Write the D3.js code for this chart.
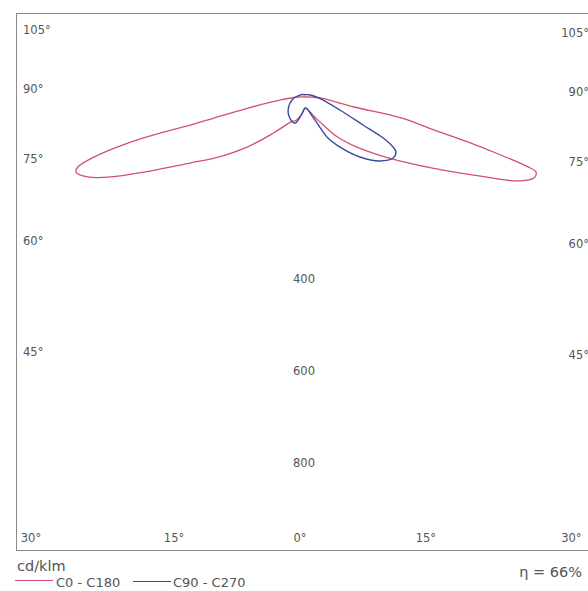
<!DOCTYPE html>
<html>
<head>
<meta charset="utf-8">
<script src="https://cdn.jsdelivr.net/npm/d3@7"></script>
<style>
  body { margin: 0; background: #fff; }
</style>
</head>
<body>
<svg id="ldc" width="588" height="591"></svg>
<script>
// luminous intensity per C-plane, gamma in degrees from nadir, values in cd/klm
const c0Gamma   = [0, 10, 20, 25, 30, 33, 39, 46, 52, 56, 61, 66, 68.5, 70.5, 72, 72.6, 73.5, 74.6, 75.7, 77.7, 78.5, 86, 90, 95, 180];
const c0Values  = [24, 27, 36, 46, 60, 72, 111, 157, 206, 248, 320, 426, 498, 528, 528, 508, 444, 367, 289, 214, 109, 35, 10, 0, 0];
const c180Gamma  = [0, 10, 21, 29, 41, 49, 56, 60, 65, 67.6, 69.8, 71.9, 72.9, 74.1, 75.4, 76, 76.2, 77, 79, 83, 90, 95, 180];
const c180Values = [24, 38, 54, 62, 103, 165, 238, 286, 386, 456, 503, 524, 516, 477, 398, 323, 255, 203, 126, 53, 15, 0, 0];
const c90Gamma   = [0, 10, 17.4, 24.8, 28.8, 35, 42.5, 49.5, 55.3, 58.9, 60.4, 62.3, 64.2, 68.5, 80.5, 90, 120, 180];
const c90Values  = [24, 26, 36, 62, 99, 133, 177, 214, 233, 231, 220, 192, 140, 89, 40, 25, 10, 5];
const c270Gamma  = [0, 8, 14, 21, 31, 40, 48.6, 58, 68, 80, 90, 110, 140, 180];
const c270Values = [24, 32, 45, 61, 59, 54, 49, 42, 35, 27, 20, 12, 7, 5];

const sideAngles = [105, 90, 75, 60, 45];
const bottomAngles = [30, 15, 0, 15, 30];
const bottomSigns = [-1, -1, 0, 1, 1];
const radialTicks = [400, 600, 800];

const svg = d3.select("#ldc")
  .attr("font-family", "DejaVu Sans, Verdana, sans-serif");

const cx = 305, cy = 97;
const labelX = 300;
const textColor = "#555";

const r = d3.scaleLinear().domain([0, 800]).range([0, 368]);

// frame
svg.append("rect")
  .attr("x", 16.5).attr("y", 13.5)
  .attr("width", 600).attr("height", 537)
  .attr("fill", "none")
  .attr("stroke", "#8a8a8a")
  .attr("stroke-width", 1);

// side gamma labels
const sideY = g => Math.max(30, cy + 263 / Math.tan(g * Math.PI / 180) - 8);

svg.append("g").selectAll("text")
  .data(sideAngles)
  .join("text")
    .attr("x", 23)
    .attr("y", d => sideY(d))
    .attr("dy", "0.35em")
    .attr("font-size", 11.5)
    .attr("fill", textColor)
    .text(d => d + "°");

svg.append("g").selectAll("text")
  .data(sideAngles)
  .join("text")
    .attr("x", 589)
    .attr("y", d => sideY(d) + 3)
    .attr("dy", "0.35em")
    .attr("text-anchor", "end")
    .attr("font-size", 11.5)
    .attr("fill", textColor)
    .text(d => d + "°");

// bottom gamma labels
svg.append("g").selectAll("text")
  .data(bottomAngles)
  .join("text")
    .attr("x", (d, i) => Math.max(31, Math.min(572, labelX + bottomSigns[i] * 470 * Math.tan(d * Math.PI / 180))))
    .attr("y", 538)
    .attr("dy", "0.35em")
    .attr("text-anchor", "middle")
    .attr("font-size", 11.5)
    .attr("fill", textColor)
    .text(d => d + "°");

// radial values along nadir
svg.append("g").selectAll("text")
  .data(radialTicks)
  .join("text")
    .attr("x", cx - 1)
    .attr("y", d => cy + r(d) - 2)
    .attr("dy", "0.35em")
    .attr("text-anchor", "middle")
    .attr("font-size", 11.5)
    .attr("fill", textColor)
    .text(d => d);

// curves
function planePoints(rightG, rightV, leftG, leftV) {
  const left = leftG.map((g, i) => ({a: Math.PI + g * Math.PI / 180, v: leftV[i]})).reverse();
  const right = rightG.map((g, i) => ({a: Math.PI - g * Math.PI / 180, v: rightV[i]}));
  return left.concat(right.slice(1));
}

const radial = d3.lineRadial()
  .angle(d => d.a)
  .radius(d => r(d.v))
  .curve(d3.curveCatmullRomClosed.alpha(0.5));

const plot = svg.append("g").attr("transform", `translate(${cx},${cy})`);

plot.append("path")
  .attr("d", radial(planePoints(c0Gamma, c0Values, c180Gamma, c180Values)))
  .attr("fill", "none")
  .attr("stroke", "#d4506e")
  .attr("stroke-width", 1.3);

plot.append("path")
  .attr("d", radial(planePoints(c90Gamma, c90Values, c270Gamma, c270Values)))
  .attr("fill", "none")
  .attr("stroke", "#3c4a9c")
  .attr("stroke-width", 1.4);

// footer
svg.append("text")
  .attr("x", 17).attr("y", 571)
  .attr("font-size", 14.5)
  .attr("fill", textColor)
  .text("cd/klm");

svg.append("line")
  .attr("x1", 15).attr("x2", 53).attr("y1", 580.5).attr("y2", 580.5)
  .attr("stroke", "#d4506e").attr("stroke-width", 1);
svg.append("text")
  .attr("x", 56).attr("y", 587)
  .attr("font-size", 13)
  .attr("fill", textColor)
  .text("C0 - C180");

svg.append("line")
  .attr("x1", 133).attr("x2", 171).attr("y1", 581.5).attr("y2", 581.5)
  .attr("stroke", "#3c4a9c").attr("stroke-width", 1);
svg.append("text")
  .attr("x", 173).attr("y", 587)
  .attr("font-size", 13)
  .attr("fill", textColor)
  .text("C90 - C270");

svg.append("text")
  .attr("x", 582).attr("y", 577)
  .attr("text-anchor", "end")
  .attr("font-size", 14.5)
  .attr("fill", textColor)
  .text("η = 66%");
</script>
</body>
</html>
